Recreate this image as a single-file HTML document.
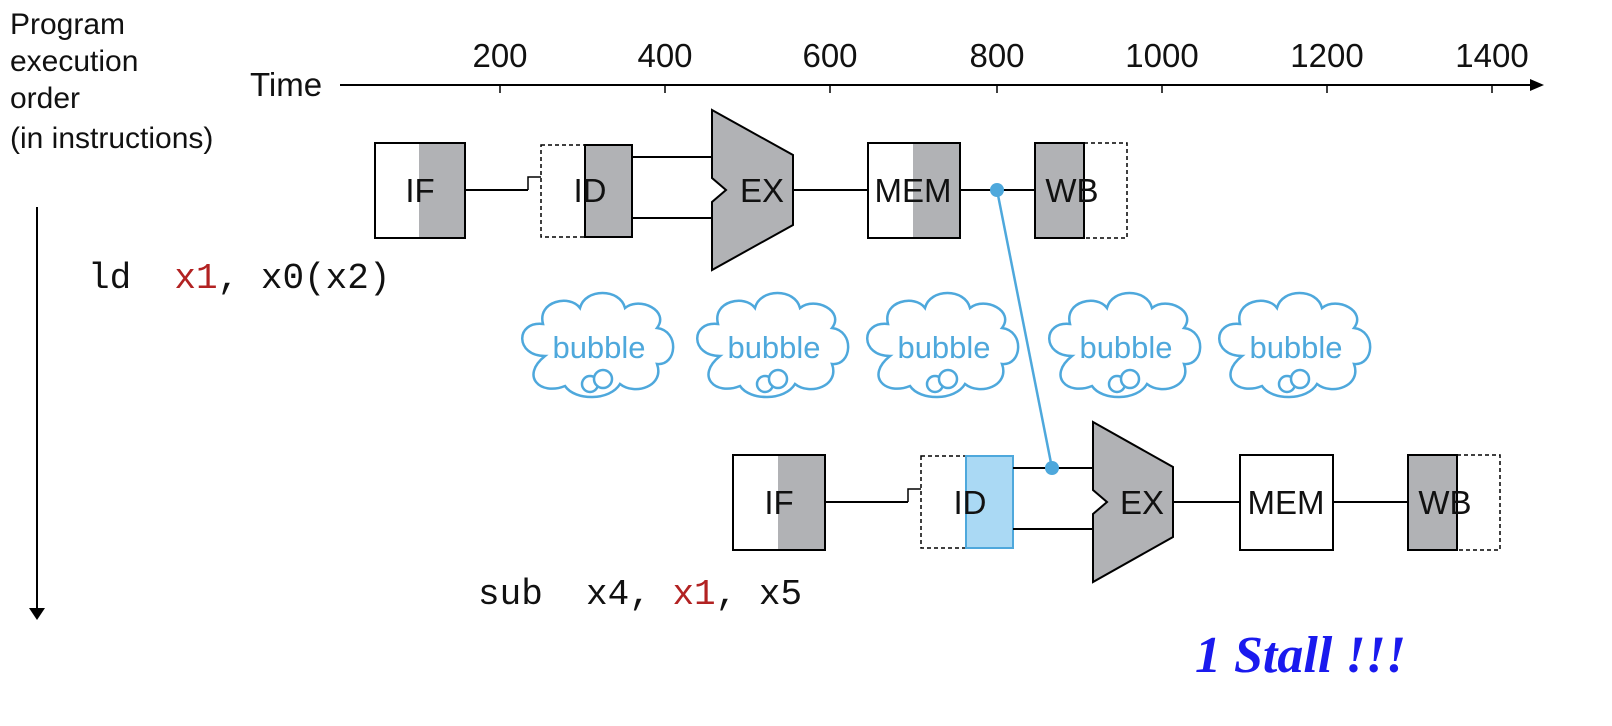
<!DOCTYPE html>
<html><head><meta charset="utf-8"><style>
body{margin:0;background:#fff;}
svg{display:block;}
</style></head><body>
<svg width="1612" height="726" viewBox="0 0 1612 726" xmlns="http://www.w3.org/2000/svg" font-family="Liberation Sans, sans-serif">
<defs>
<g id="cloud">
<path d="M-50,10 C-80,10 -80,-25 -52,-22 C-58,-45 -25,-52 -15,-38 C-10,-58 25,-58 30,-38 C45,-50 75,-35 62,-18 C85,-15 82,20 62,18 C70,40 40,50 25,38 C15,55 -20,55 -30,40 C-55,50 -75,30 -50,10 Z" fill="#fff" stroke="#4ea8dc" stroke-width="2.5"/>
<circle cx="-5" cy="38" r="8" fill="#fff" stroke="#4ea8dc" stroke-width="2.5"/>
<circle cx="8" cy="33" r="9" fill="#fff" stroke="#4ea8dc" stroke-width="2.5"/>
<text x="4" y="12" font-size="31" fill="#4ea8dc" text-anchor="middle">bubble</text>
</g>
</defs>
<g font-size="30" fill="#111">
<text x="10" y="34">Program</text>
<text x="10" y="71">execution</text>
<text x="10" y="108">order</text>
<text x="10" y="148">(in instructions)</text>
</g>
<line x1="37" y1="207" x2="37" y2="610" stroke="#000" stroke-width="2"/>
<polygon points="29,608 45,608 37,620" fill="#000"/>
<text x="250" y="96" font-size="33" fill="#111">Time</text>
<line x1="340" y1="85" x2="1532" y2="85" stroke="#000" stroke-width="2"/>
<polygon points="1530,79 1544,85 1530,91" fill="#000"/>
<g font-size="33" fill="#111" text-anchor="middle">
<text x="500" y="67">200</text><text x="665" y="67">400</text><text x="830" y="67">600</text>
<text x="997" y="67">800</text><text x="1162" y="67">1000</text><text x="1327" y="67">1200</text><text x="1492" y="67">1400</text>
</g>
<g stroke="#000" stroke-width="1.5">
<line x1="500" y1="85" x2="500" y2="93"/><line x1="665" y1="85" x2="665" y2="93"/><line x1="830" y1="85" x2="830" y2="93"/>
<line x1="997" y1="85" x2="997" y2="93"/><line x1="1162" y1="85" x2="1162" y2="93"/><line x1="1327" y1="85" x2="1327" y2="93"/><line x1="1492" y1="85" x2="1492" y2="93"/>
</g>
<g stroke="#000" stroke-width="2" font-size="33">
<rect x="419" y="143" width="46" height="95" fill="#b1b2b5" stroke="none"/>
<rect x="375" y="143" width="90" height="95" fill="none"/>
<text x="420" y="202" text-anchor="middle" stroke="none" fill="#111">IF</text>
<line x1="465" y1="190" x2="528" y2="190"/>
<polyline points="528,190 528,177 541,177" fill="none" stroke-width="1.5"/>
<rect x="585" y="145" width="47" height="92" fill="#b1b2b5"/>
<rect x="541" y="145" width="91" height="92" fill="none" stroke-dasharray="4,3" stroke-width="1.5"/>
<text x="590" y="202" text-anchor="middle" stroke="none" fill="#111">ID</text>
<line x1="632" y1="157" x2="712" y2="157"/><line x1="632" y1="218" x2="712" y2="218"/>
<polygon points="712,110 793,155 793,225 712,270 712,202 726,190 712,178" fill="#b1b2b5"/>
<text x="762" y="202" text-anchor="middle" stroke="none" fill="#111">EX</text>
<line x1="793" y1="190" x2="868" y2="190"/>
<rect x="913" y="143" width="47" height="95" fill="#b1b2b5" stroke="none"/>
<rect x="868" y="143" width="92" height="95" fill="none"/>
<text x="913" y="202" text-anchor="middle" stroke="none" fill="#111">MEM</text>
<line x1="960" y1="190" x2="1035" y2="190"/>
<rect x="1035" y="143" width="49" height="95" fill="#b1b2b5"/>
<rect x="1035" y="143" width="92" height="95" fill="none" stroke-dasharray="4,3" stroke-width="1.5"/>
<text x="1072" y="202" text-anchor="middle" stroke="none" fill="#111">WB</text>
</g>
<line x1="997" y1="190" x2="1052" y2="468" stroke="#4ea8dc" stroke-width="2.5"/>
<circle cx="997" cy="190" r="7" fill="#4ea8dc"/>
<g stroke="#000" stroke-width="2" font-size="33">
<rect x="778" y="455" width="47" height="95" fill="#b1b2b5" stroke="none"/>
<rect x="733" y="455" width="92" height="95" fill="none"/>
<text x="779" y="514" text-anchor="middle" stroke="none" fill="#111">IF</text>
<line x1="825" y1="502" x2="908" y2="502"/>
<polyline points="908,502 908,489 921,489" fill="none" stroke-width="1.5"/>
<rect x="921" y="456" width="92" height="92" fill="none" stroke-dasharray="4,3" stroke-width="1.5"/>
<rect x="966" y="456" width="47" height="92" fill="#aad9f4" stroke="#4ea8dc"/>
<text x="970" y="514" text-anchor="middle" stroke="none" fill="#111">ID</text>
<line x1="1013" y1="468" x2="1093" y2="468"/><line x1="1013" y1="529" x2="1093" y2="529"/>
<polygon points="1093,422 1173,467 1173,537 1093,582 1093,514 1107,502 1093,490" fill="#b1b2b5"/>
<text x="1142" y="514" text-anchor="middle" stroke="none" fill="#111">EX</text>
<line x1="1173" y1="502" x2="1240" y2="502"/>
<rect x="1240" y="455" width="93" height="95" fill="#fff"/>
<text x="1286" y="514" text-anchor="middle" stroke="none" fill="#111">MEM</text>
<line x1="1333" y1="502" x2="1408" y2="502"/>
<rect x="1408" y="455" width="49" height="95" fill="#b1b2b5"/>
<rect x="1408" y="455" width="92" height="95" fill="none" stroke-dasharray="4,3" stroke-width="1.5"/>
<text x="1445" y="514" text-anchor="middle" stroke="none" fill="#111">WB</text>
</g>
<circle cx="1052" cy="468" r="7" fill="#4ea8dc"/>
<use href="#cloud" x="595" y="346"/>
<use href="#cloud" x="770" y="346"/>
<use href="#cloud" x="940" y="346"/>
<use href="#cloud" x="1122" y="346"/>
<use href="#cloud" x="1292" y="346"/>
<g font-family="Liberation Mono, monospace" font-size="36" fill="#111">
<text x="88" y="288">ld&#160;&#160;<tspan fill="#b22222">x1</tspan>, x0(x2)</text>
<text x="478" y="604">sub&#160;&#160;x4, <tspan fill="#b22222">x1</tspan>, x5</text>
</g>
<text x="1195" y="672" font-family="Liberation Serif, serif" font-weight="bold" font-style="italic" font-size="52" fill="#1a1aee">1 Stall !!!</text>
</svg>
</body></html>
